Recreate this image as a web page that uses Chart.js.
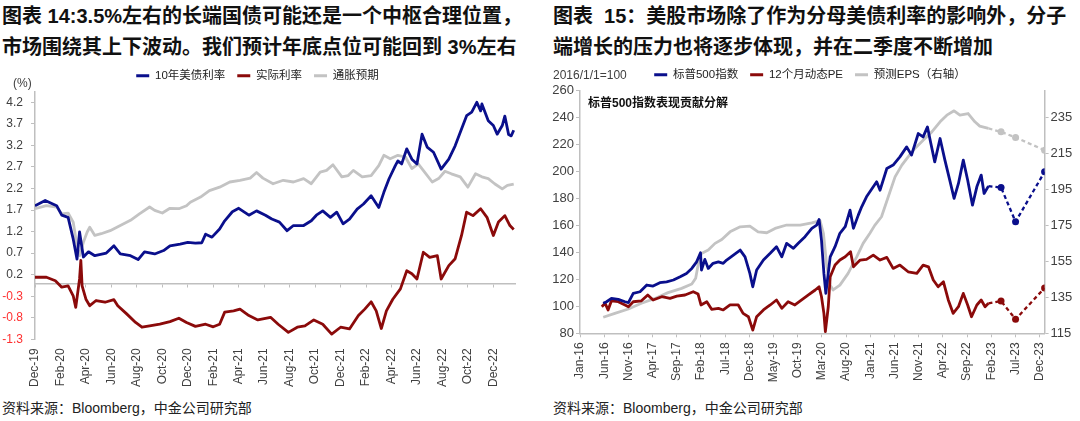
<!DOCTYPE html>
<html><head><meta charset="utf-8">
<script src="https://cdn.jsdelivr.net/npm/chart.js@4.4.0/dist/chart.umd.min.js"></script>
<style>
body{margin:0;width:1080px;height:421px;background:#fff;position:relative;overflow:hidden;font-family:"Liberation Sans","Noto Sans CJK SC",sans-serif;}
.t{position:absolute;font-weight:bold;font-size:20px;line-height:31px;color:#111;white-space:nowrap;}
.src{position:absolute;top:399px;font-size:14px;line-height:18px;color:#222;white-space:nowrap;}
.lab{position:absolute;font-size:12px;line-height:14px;color:#404040;white-space:nowrap;}
canvas{position:absolute;}
</style></head><body>
<div class="t" style="left:2px;top:1px">图表 14:3.5%左右的长端国债可能还是一个中枢合理位置，<br>市场围绕其上下波动。我们预计年底点位可能回到 3%左右</div>
<div class="t" style="left:553px;top:1px">图表&nbsp;&nbsp;15：美股市场除了作为分母美债利率的影响外，分子<br>端增长的压力也将逐步体现，并在二季度不断增加</div>
<canvas id="c1" width="540" height="337" style="left:0;top:58px"></canvas>
<canvas id="c2" width="540" height="338" style="left:540px;top:57px"></canvas>
<div class="lab" style="left:13px;top:76px">(%)</div>
<div class="lab" style="left:553px;top:68px">2016/1/1=100</div>
<div class="lab" style="left:588px;top:96px;font-weight:bold;color:#111">标普500指数表现贡献分解</div>
<div class="src" style="left:2px">资料来源：Bloomberg，中金公司研究部</div>
<div class="src" style="left:553px">资料来源：Bloomberg，中金公司研究部</div>
<script>
// ---------- Left chart data (x = months since Dec 2019) ----------
const leftTickMonths = [0,2,4,6,8,10,12,14,16,18,20,22,24,26,28,30,32,34,36];
const leftTickLabels = ['Dec-19','Feb-20','Apr-20','Jun-20','Aug-20','Oct-20','Dec-20','Feb-21','Apr-21','Jun-21','Aug-21','Oct-21','Dec-21','Feb-22','Apr-22','Jun-22','Aug-22','Oct-22','Dec-22'];
const leftYTicks = [-1.3,-0.8,-0.3,0.2,0.7,1.2,1.7,2.2,2.7,3.2,3.7,4.2];
const seriesNamesLeft = ['10年美债利率','实际利率','通胀预期'];

const tsyM = [0,0.8,1.7,2.1,2.6,3.0,3.3,3.5,3.8,4.2,4.7,5.6,6.2,6.7,7.5,8.1,8.6,9.4,10.1,10.6,11.4,12.0,12.6,13.1,13.4,13.9,14.5,14.9,15.5,16.0,16.8,17.4,18.1,18.6,19.2,19.8,20.3,21.1,21.7,22.1,22.6,23.2,23.7,24.2,24.7,25.3,25.8,26.4,27.0,27.4,27.8,28.3,28.5,28.8,29.2,29.6,30.0,30.4,30.8,31.3,31.9,32.5,33.0,33.5,33.9,34.3,34.7,35.0,35.1,35.6,36.0,36.3,36.7,36.9,37.2,37.4,37.6];
const tsyV = [1.80,1.92,1.80,1.58,1.53,1.03,0.56,1.19,0.61,0.73,0.64,0.70,0.87,0.68,0.64,0.55,0.73,0.68,0.76,0.87,0.91,0.95,0.93,0.94,1.14,1.07,1.26,1.45,1.66,1.74,1.58,1.68,1.58,1.49,1.42,1.22,1.34,1.34,1.45,1.58,1.68,1.53,1.65,1.38,1.49,1.72,1.84,2.03,1.76,2.11,2.42,2.73,2.84,2.77,3.12,2.88,2.77,3.46,3.16,3.04,2.65,2.88,3.19,3.58,3.89,3.97,4.20,4.00,4.16,3.77,3.66,3.46,3.66,3.88,3.45,3.42,3.55];

const realM = [0,0.9,1.6,2.1,2.6,3.0,3.2,3.5,3.6,3.7,4.0,4.3,4.8,5.5,6.2,6.5,7.2,7.9,8.4,9.0,9.8,10.6,11.3,11.9,12.6,13.4,14.0,14.5,14.9,15.6,16.1,16.8,17.5,18.5,19.1,19.9,20.6,21.2,21.9,22.6,23.3,24.0,24.7,25.4,25.9,26.4,26.8,27.2,27.6,28.1,28.7,29.2,29.6,30.0,30.5,31.0,31.6,31.9,32.5,33.0,33.5,33.9,34.4,35.0,35.5,36.0,36.4,36.9,37.3,37.6];
const realV = [0.14,0.14,0.06,-0.09,-0.06,-0.29,-0.56,0.10,0.53,-0.06,-0.37,-0.52,-0.40,-0.44,-0.38,-0.52,-0.71,-0.91,-1.02,-0.99,-0.95,-0.89,-0.81,-0.91,-1.00,-0.95,-1.01,-0.95,-0.67,-0.64,-0.60,-0.75,-0.85,-0.79,-0.95,-1.14,-1.02,-0.99,-0.85,-0.95,-1.18,-1.02,-1.06,-0.75,-0.60,-0.43,-0.64,-1.05,-0.64,-0.37,-0.13,0.29,0.22,0.10,0.72,0.60,0.64,0.10,0.41,0.57,1.11,1.65,1.57,1.73,1.53,1.11,1.42,1.57,1.34,1.25];

const beM = [0,0.9,1.7,2.1,2.6,3.0,3.3,3.5,3.8,4.1,4.3,4.7,5.2,5.9,6.7,7.5,8.2,9.0,9.4,10.0,10.6,11.3,11.9,12.2,13.0,13.7,14.5,15.3,16.1,16.9,17.4,17.9,18.7,19.5,20.3,21.1,21.7,22.4,22.9,23.4,24.1,24.6,25.0,25.7,26.4,27.0,27.4,27.9,28.5,29.1,29.6,30.1,30.6,31.2,31.7,32.2,32.7,33.4,34.0,34.6,35.1,35.6,36.1,36.7,37.1,37.6];
const beV = [1.73,1.80,1.77,1.61,1.63,1.42,0.87,0.64,0.95,1.19,1.30,1.11,1.15,1.22,1.34,1.46,1.61,1.77,1.69,1.63,1.74,1.73,1.80,1.88,2.00,2.15,2.23,2.35,2.39,2.44,2.57,2.44,2.31,2.39,2.35,2.43,2.31,2.58,2.62,2.75,2.47,2.50,2.62,2.47,2.50,2.73,2.97,2.89,2.97,2.93,2.66,2.77,2.58,2.35,2.43,2.60,2.54,2.47,2.23,2.54,2.47,2.43,2.31,2.19,2.27,2.30];

// ---------- Right chart data (x = months since Jan 2016) ----------
const rightTickMonths = [0,5,10,15,20,25,30,35,40,45,50,55,60,65,70,75,80,85,90,95];
const rightTickLabels = ['Jan-16','Jun-16','Nov-16','Apr-17','Sep-17','Feb-18','Jul-18','Dec-18','May-19','Oct-19','Mar-20','Aug-20','Jan-21','Jun-21','Nov-21','Apr-22','Sep-22','Feb-23','Jul-23','Dec-23'];
const rightAxisTicks = [115,135,155,175,195,215,235];
const seriesNamesRight = ['标普500指数','12个月动态PE','预测EPS（右轴）'];

const spxM = [4.8,5.5,6.5,7.9,9.3,10.0,11.0,12.4,13.8,15.1,16.5,17.9,19.3,20.7,22.0,23.1,24.1,24.9,25.1,25.8,26.5,27.5,28.6,29.6,30.3,31.7,33.1,34.1,35.1,35.7,36.5,37.9,39.3,40.6,41.7,42.7,44.1,45.1,46.5,47.9,48.9,49.4,49.9,50.4,50.8,51.7,52.7,53.7,54.8,55.8,56.5,57.5,58.2,59.2,60.6,61.3,62.0,63.4,64.7,66.1,67.5,68.5,69.9,70.9,71.8,72.5,73.3,74.4,75.4,76.4,77.3,78.2,79.2,80.1,81.1,82.0,82.9,83.5,84.4];
const spxV = [102.2,103.4,105.9,105.2,103.4,102.7,109.6,110.8,115.8,115.0,117.5,118.2,119.5,121.9,124.4,128.1,133.0,139.7,126.9,134.8,128.1,131.9,133.0,131.9,134.3,138.0,141.7,136.7,124.4,114.5,126.9,134.3,139.3,144.2,136.7,146.7,143.0,146.7,151.6,157.8,160.2,164.4,149.1,124.4,109.6,136.7,144.2,154.1,159.0,171.3,157.8,167.6,173.8,181.2,188.6,192.3,186.1,202.2,204.7,210.8,218.2,212.1,228.1,225.6,233.0,220.7,207.1,224.4,208.4,193.6,180.0,191.1,208.4,193.6,175.0,188.6,197.3,183.7,189.1];

const peM = [4.5,5.2,5.8,6.5,7.9,9.3,10.0,11.0,12.7,14.0,15.1,16.9,18.6,20.0,21.7,23.4,24.4,25.0,26.2,27.2,28.6,29.6,31.0,32.7,33.7,34.8,35.7,36.5,37.9,39.3,40.6,41.7,43.0,44.4,45.8,47.2,48.6,49.4,49.9,50.4,50.7,51.3,51.7,52.7,53.7,54.8,55.9,56.5,57.2,57.9,59.2,60.6,62.0,63.4,64.7,66.1,67.8,69.6,70.9,72.0,73.0,74.0,75.1,76.1,77.1,78.2,79.2,80.1,80.9,82.0,82.9,83.7,84.4];
const peV = [99.7,102.2,97.3,104.1,103.4,101.0,99.7,103.4,104.1,108.4,104.7,107.1,105.9,107.6,108.4,110.8,109.1,101.0,103.4,97.8,98.5,97.3,101.0,101.0,94.8,92.3,82.4,92.3,97.3,101.0,104.7,98.5,103.4,101.0,104.7,108.4,112.1,114.5,107.1,94.8,81.2,99.7,121.9,130.6,134.3,136.7,140.4,129.3,131.9,134.3,134.8,138.0,134.3,136.3,128.1,130.6,125.6,124.4,130.6,129.3,119.5,114.5,118.2,104.7,94.8,99.7,109.6,101.0,92.3,101.0,104.7,99.7,102.2];

const epsM = [4.8,7.2,10.0,12.7,15.5,18.2,21.0,23.1,23.9,24.6,25.1,26.5,27.9,29.3,31.0,33.1,35.1,36.8,38.6,40.3,42.7,45.5,47.9,49.6,50.3,51.0,51.7,52.3,53.7,55.4,57.2,58.5,59.9,60.9,62.3,63.7,65.1,66.5,67.8,69.2,70.9,72.7,74.4,75.8,77.3,78.5,80.2,81.6,82.6,84.4];
const epsV = [123.9,126.1,128.5,131.7,134.4,137.6,140.0,142.4,145.6,155.7,159.4,161.3,165.0,167.2,171.4,174.2,174.6,171.4,170.9,173.3,175.2,175.2,176.4,177.6,170.6,152.0,141.8,139.1,141.8,148.3,157.6,165.0,170.6,175.0,179.8,190.9,202.0,208.5,213.1,217.8,222.4,227.0,232.6,236.3,238.7,236.3,237.2,232.6,230.2,228.9];

// forecasts (last actual, end Q1-23, end Q2-23, end Q4-23)
const projM = [84.4, 87, 90, 96];
const spxProj = [189.1, 188.1, 162.7, 199.7];
const peProj = [102.2, 103.9, 90.4, 113.6];
const epsProj = [228.9, 227.0, 223.9, 216.8];

// ---------- styles ----------
const BLUE = '#0a0f8c', RED = '#8b0a0a', GRAY = '#c3c3c3', AXIS = '#bfbfbf', TXT = '#404040';
Chart.defaults.font.family = '"Liberation Sans","Noto Sans CJK SC",sans-serif';
Chart.defaults.font.size = 12;
Chart.defaults.color = TXT;

const pts = (xs, ys) => xs.map((x, i) => ({x, y: ys[i]}));
const line = (label, xs, ys, color, extra) => Object.assign({
  label, data: pts(xs, ys), borderColor: color, backgroundColor: color,
  borderWidth: 2.8, pointRadius: 0, tension: 0, borderJoinStyle: 'round'
}, extra || {});
const proj = (xs, ys, color, axis) => ({
  label: '_proj', data: pts(xs, ys), borderColor: color, backgroundColor: color,
  borderWidth: 2.3, borderDash: [4, 3], tension: 0, yAxisID: axis,
  pointRadius: [0, 3.5, 3.5, 3.5], pointBackgroundColor: color, pointBorderWidth: 0
});
const legendOpts = {
  display: true, position: 'top',
  labels: {
    boxWidth: 13, boxHeight: 3, padding: 12, color: '#222',
    font: {size: 11.5},
    filter: item => item.text !== '_proj',
    generateLabels: chart => Chart.defaults.plugins.legend.labels.generateLabels(chart)
      .map(l => Object.assign(l, {lineWidth: 0, lineDash: [], fillStyle: l.strokeStyle}))
  }
};
const setTicks = arr => s => { s.ticks = arr.map(v => ({value: v})); };

// ---------- Left chart ----------
new Chart(document.getElementById('c1'), {
  type: 'line',
  data: { datasets: [
    line(seriesNamesLeft[0], tsyM, tsyV, BLUE),
    line(seriesNamesLeft[1], realM, realV, RED),
    line(seriesNamesLeft[2], beM, beV, GRAY)
  ]},
  options: {
    responsive: false, animation: false, devicePixelRatio: 1,
    layout: { padding: { left: 0, right: 25, top: 0, bottom: 0 } },
    plugins: { legend: legendOpts, tooltip: { enabled: false } },
    scales: {
      x: {
        type: 'linear', position: 'bottom', min: 0, max: 37.7,
        afterBuildTicks: setTicks(leftTickMonths),
        afterFit: s => { s.height = 55.7; },
        ticks: { callback: (v, i) => leftTickLabels[i], minRotation: 90, maxRotation: 90, autoSkip: false, padding: 9, color: TXT },
        grid: { display: false, drawTicks: false }, border: { display: false }
      },
      x0: {
        type: 'linear', axis: 'x', position: { y: 0 }, min: 0, max: 37.7,
        afterBuildTicks: setTicks(leftTickMonths),
        ticks: { display: false },
        grid: { drawOnChartArea: false, drawTicks: true, tickLength: 3, color: AXIS },
        border: { display: true, color: AXIS, width: 1.5 }
      },
      y: {
        type: 'linear', position: 'left', min: -1.3, max: 4.45,
        afterBuildTicks: setTicks(leftYTicks),
        afterFit: s => { s.width = 35; },
        ticks: { callback: v => v.toFixed(1), padding: 8, color: c => (c.tick && c.tick.value < 0) ? '#ff3030' : TXT },
        grid: { drawOnChartArea: false, drawTicks: true, tickLength: 4, color: AXIS },
        border: { display: true, color: AXIS, width: 1.5 }
      }
    }
  }
});

// ---------- Right chart ----------
new Chart(document.getElementById('c2'), {
  type: 'line',
  data: { datasets: [
    line(seriesNamesRight[0], spxM, spxV, BLUE, {yAxisID: 'y'}),
    line(seriesNamesRight[1], peM, peV, RED, {yAxisID: 'y'}),
    line(seriesNamesRight[2], epsM, epsV, GRAY, {yAxisID: 'y1'}),
    proj(projM, spxProj, BLUE, 'y'),
    proj(projM, peProj, RED, 'y'),
    proj(projM, epsProj, GRAY, 'y1')
  ]},
  options: {
    responsive: false, animation: false, devicePixelRatio: 1,
    layout: { padding: 0 },
    plugins: { legend: legendOpts, tooltip: { enabled: false } },
    scales: {
      x: {
        type: 'linear', position: 'bottom', min: 0, max: 96,
        afterBuildTicks: setTicks(rightTickMonths),
        afterFit: s => { s.height = 61.7; },
        ticks: { callback: (v, i) => rightTickLabels[i], minRotation: 90, maxRotation: 90, autoSkip: false, padding: 5, color: TXT },
        grid: { drawOnChartArea: false, drawTicks: true, tickLength: 4, color: AXIS },
        border: { display: true, color: AXIS, width: 1.5 }
      },
      y: {
        type: 'linear', position: 'left', min: 80, max: 260,
        ticks: { stepSize: 20, padding: 2, color: TXT, font: {size: 13} },
        afterFit: s => { s.width = 40; },
        grid: { drawOnChartArea: false, drawTicks: true, tickLength: 4, color: AXIS },
        border: { display: true, color: AXIS, width: 1.5 }
      },
      y1: {
        type: 'linear', position: 'right', min: 115, max: 250,
        afterBuildTicks: setTicks(rightAxisTicks),
        afterFit: s => { s.width = 35.4; },
        ticks: { padding: 2, color: TXT, font: {size: 13} },
        grid: { drawOnChartArea: false, drawTicks: true, tickLength: 4, color: AXIS },
        border: { display: true, color: AXIS, width: 1.5 }
      }
    }
  }
});
</script>
</body></html>
